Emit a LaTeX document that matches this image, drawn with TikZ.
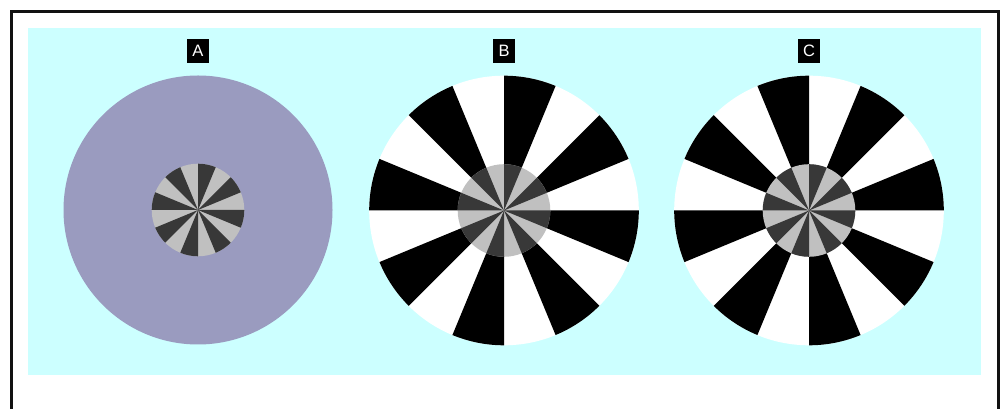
\documentclass[tikz,border=0pt]{standalone}
\usepackage{fontspec}
\setmainfont{Liberation Sans}
\definecolor{bgcyan}{HTML}{CCFFFF}
\definecolor{ringA}{HTML}{9A9BBF}
\definecolor{darkg}{HTML}{383838}
\definecolor{lightg}{HTML}{C0C0C0}
\definecolor{frame}{HTML}{111111}
\tikzset{
  lbl/.style={fill=black,text=white,minimum width=22pt,minimum height=24pt,inner sep=0pt,font=\fontsize{16.5}{16.5}\selectfont},
  frameline/.style={draw=frame,line width=3pt}
}
\begin{document}
\begin{tikzpicture}[x=1pt,y=1pt]
\useasboundingbox (0,0) rectangle (1004,409);
\fill[white] (0,0) rectangle (1004,409);
\draw[frameline] (11,-2) -- (11,397.5) -- (998,397.5) -- (998,-2);
\fill[bgcyan] (28,34) rectangle (981,381);
\coordinate (cA) at (198,199);
\coordinate (cB) at (504,198.5);
\coordinate (cC) at (809,198.5);
% A
\fill[ringA] (cA) circle[radius=134.5];
% B outer
\fill[white] (cB) circle[radius=134.8];
\foreach \a in {22.5,67.5,...,337.5}
  \fill[black] (cB) -- ++(\a:134.8) arc[start angle=\a, end angle=\a+22.5, radius=134.8] -- cycle;
% C outer
\fill[white] (cC) circle[radius=134.8];
\foreach \a in {0,45,...,315}
  \fill[black] (cC) -- ++(\a:134.8) arc[start angle=\a, end angle=\a+22.5, radius=134.8] -- cycle;
% inner patterns
\foreach \c in {cA,cB,cC}{
  \fill[lightg] (\c) circle[radius=46.3];
  \foreach \a in {22.5,67.5,...,337.5}
    \fill[darkg] (\c) -- ++(\a:46.3) arc[start angle=\a, end angle=\a+22.5, radius=46.3] -- cycle;
}
\node[lbl] (labA) at (198,358) {A};
\node[lbl] (labB) at (504,358) {B};
\node[lbl] (labC) at (809,358) {C};
\end{tikzpicture}
\end{document}
